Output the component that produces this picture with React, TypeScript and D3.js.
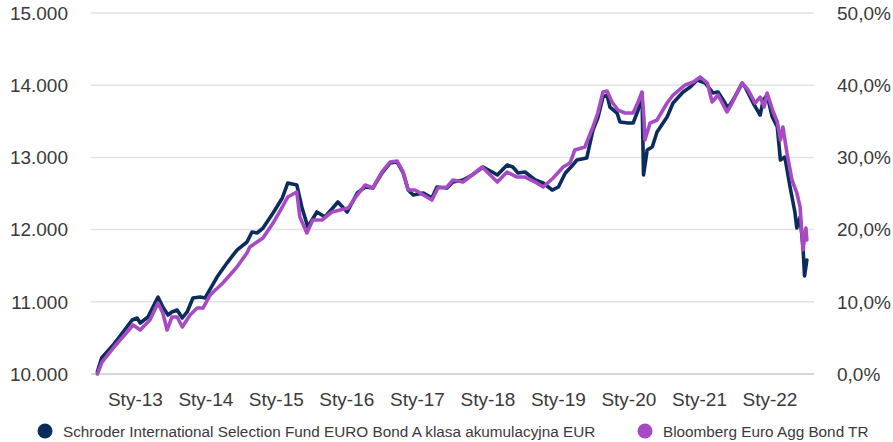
import * as d3 from 'd3';
import * as React from 'react';

const { useRef, useEffect } = React;

const width = 893;
const height = 442;
const plot = { left: 91, right: 814, top: 13, bottom: 374 };

// fund series (Schroder ISF EURO Bond A), value of 10 000 invested
const fundSeries: [string, number][] = [
  ['2012-06-18', 10030], ['2012-07-10', 10222], ['2012-09-08', 10402], ['2012-10-29', 10582],
  ['2012-12-15', 10748], ['2013-01-10', 10776], ['2013-01-26', 10706], ['2013-03-07', 10789],
  ['2013-04-02', 10928], ['2013-04-28', 11066], ['2013-05-23', 10928], ['2013-06-19', 10817],
  ['2013-07-09', 10859], ['2013-08-05', 10886], ['2013-09-01', 10776], ['2013-09-26', 10859],
  ['2013-10-26', 11053], ['2013-12-02', 11066], ['2013-12-28', 11053], ['2014-02-28', 11343],
  ['2014-04-20', 11537], ['2014-06-11', 11717], ['2014-08-02', 11828], ['2014-08-28', 11967],
  ['2014-09-23', 11953], ['2014-10-24', 12022], ['2014-12-15', 12230], ['2015-02-01', 12438],
  ['2015-03-01', 12645], ['2015-04-17', 12618], ['2015-05-13', 12313], ['2015-06-13', 12036],
  ['2015-07-30', 12244], ['2015-09-10', 12174], ['2015-11-16', 12382], ['2016-01-03', 12244],
  ['2016-02-24', 12507], ['2016-04-05', 12590], ['2016-05-15', 12576], ['2016-07-01', 12784],
  ['2016-08-12', 12922], ['2016-09-18', 12936], ['2016-10-19', 12784], ['2016-11-14', 12548],
  ['2016-12-10', 12479], ['2017-02-01', 12507], ['2017-03-17', 12438], ['2017-04-12', 12590],
  ['2017-06-03', 12576], ['2017-07-04', 12659], ['2017-08-25', 12687], ['2017-10-11', 12756],
  ['2017-12-07', 12867], ['2018-01-23', 12798], ['2018-02-19', 12756], ['2018-04-10', 12895],
  ['2018-05-10', 12867], ['2018-06-06', 12784], ['2018-07-12', 12798], ['2018-09-03', 12687],
  ['2018-10-14', 12645], ['2018-11-30', 12548], ['2019-01-01', 12590], ['2019-02-06', 12784],
  ['2019-03-17', 12895], ['2019-04-07', 12964], ['2019-05-28', 12992], ['2019-06-29', 13379],
  ['2019-07-24', 13546], ['2019-08-20', 13836], ['2019-09-10', 13864], ['2019-09-25', 13698],
  ['2019-11-01', 13615], ['2019-11-16', 13490], ['2019-12-27', 13476], ['2020-01-23', 13476],
  ['2020-02-18', 13656], ['2020-03-09', 13892], ['2020-03-17', 12756], ['2020-04-05', 13102],
  ['2020-05-01', 13144], ['2020-05-26', 13352], ['2020-07-17', 13559], ['2020-08-17', 13753],
  ['2020-10-08', 13906], ['2020-11-14', 13975], ['2020-12-20', 14072], ['2021-01-31', 14030],
  ['2021-03-12', 13892], ['2021-04-07', 13906], ['2021-05-13', 13753], ['2021-05-28', 13684],
  ['2021-06-24', 13795], ['2021-08-10', 14030], ['2021-08-25', 13975], ['2021-10-06', 13753],
  ['2021-11-11', 13587], ['2021-11-27', 13795], ['2021-12-17', 13864], ['2022-01-13', 13559],
  ['2022-02-08', 13421], ['2022-02-24', 12964], ['2022-03-19', 13005], ['2022-04-15', 12590],
  ['2022-05-10', 12244], ['2022-05-20', 12022], ['2022-06-06', 12174], ['2022-06-21', 11759],
  ['2022-06-29', 11357], ['2022-07-11', 11579],
];

// benchmark series (Bloomberg Euro Agg Bond TR)
const benchSeries: [string, number][] = [
  ['2012-06-18', 10000], ['2012-07-12', 10166], ['2012-09-08', 10360], ['2012-11-19', 10582],
  ['2012-12-20', 10679], ['2013-01-26', 10609], ['2013-03-17', 10748], ['2013-04-28', 10983],
  ['2013-05-23', 10845], ['2013-06-14', 10609], ['2013-07-09', 10789], ['2013-08-05', 10789],
  ['2013-09-01', 10651], ['2013-10-11', 10817], ['2013-11-17', 10914], ['2013-12-17', 10914],
  ['2014-01-23', 11094], ['2014-03-30', 11260], ['2014-06-11', 11482], ['2014-08-02', 11676],
  ['2014-08-17', 11759], ['2014-10-24', 11884], ['2014-12-15', 12091], ['2015-02-01', 12313],
  ['2015-03-01', 12451], ['2015-04-17', 12521], ['2015-05-03', 12174], ['2015-06-08', 11953],
  ['2015-07-09', 12133], ['2015-08-25', 12133], ['2015-10-16', 12244], ['2015-11-27', 12271],
  ['2016-01-08', 12299], ['2016-02-24', 12479], ['2016-04-05', 12618], ['2016-05-15', 12576],
  ['2016-07-01', 12798], ['2016-08-12', 12936], ['2016-09-18', 12950], ['2016-10-19', 12798],
  ['2016-11-14', 12548], ['2016-12-20', 12548], ['2017-02-01', 12479], ['2017-03-17', 12410],
  ['2017-04-17', 12576], ['2017-06-03', 12590], ['2017-07-04', 12687], ['2017-08-25', 12659],
  ['2017-10-11', 12756], ['2017-12-02', 12867], ['2018-01-13', 12756], ['2018-02-19', 12659],
  ['2018-04-10', 12798], ['2018-06-01', 12728], ['2018-07-12', 12728], ['2018-09-03', 12659],
  ['2018-10-14', 12590], ['2018-12-05', 12715], ['2019-01-26', 12867], ['2019-03-02', 12922],
  ['2019-03-27', 13102], ['2019-05-18', 13144], ['2019-06-29', 13421], ['2019-07-24', 13615],
  ['2019-08-20', 13906], ['2019-09-10', 13920], ['2019-10-06', 13767], ['2019-11-06', 13656],
  ['2019-12-12', 13615], ['2020-01-23', 13615], ['2020-02-18', 13767], ['2020-03-09', 13906],
  ['2020-03-19', 13546], ['2020-03-24', 13241], ['2020-04-20', 13476], ['2020-05-26', 13518],
  ['2020-07-17', 13753], ['2020-08-17', 13864], ['2020-10-19', 14003], ['2020-11-30', 14044],
  ['2021-01-05', 14113], ['2021-02-11', 14030], ['2021-03-07', 13767], ['2021-04-07', 13864],
  ['2021-05-23', 13629], ['2021-06-19', 13753], ['2021-08-10', 14030], ['2021-09-10', 13933],
  ['2021-10-16', 13753], ['2021-11-11', 13836], ['2021-12-02', 13698], ['2021-12-17', 13892],
  ['2022-01-18', 13629], ['2022-02-08', 13490], ['2022-02-24', 13241], ['2022-03-09', 13421],
  ['2022-03-30', 13061], ['2022-04-25', 12687], ['2022-05-20', 12507], ['2022-06-06', 12313],
  ['2022-06-21', 11717], ['2022-07-06', 12022], ['2022-07-11', 11856],
];

const leftTicks = [10000, 11000, 12000, 13000, 14000, 15000];
const rightTicks = [0, 0.1, 0.2, 0.3, 0.4, 0.5];
const xTickDates = ['2013-01-01', '2014-01-01', '2015-01-01', '2016-01-01', '2017-01-01',
  '2018-01-01', '2019-01-01', '2020-01-01', '2021-01-01', '2022-01-01'];
const xTickLabels = ['Sty-13', 'Sty-14', 'Sty-15', 'Sty-16', 'Sty-17', 'Sty-18', 'Sty-19',
  'Sty-20', 'Sty-21', 'Sty-22'];

const seriesNames = [
  'Schroder International Selection Fund EURO Bond A klasa akumulacyjna EUR',
  'Bloomberg Euro Agg Bond TR',
];
const colors = ['#0c2c5e', '#a64bc4'];

const font = '"Liberation Sans", Arial, sans-serif';
const textColor = '#3a3a3a';

export default () => {
  const rootRef = useRef<HTMLDivElement>(null);

  useEffect(() => {
    const rootEl = rootRef.current;
    if (!rootEl) return;
    d3.select(rootEl).selectAll('*').remove();

    const parse = d3.utcParse('%Y-%m-%d');
    const pl = d3.formatLocale({ decimal: ',', thousands: '.', grouping: [3], currency: ['', ' zł'] });
    const fmtLeft = pl.format(',.0f');
    const fmtRight = pl.format('.1%');

    const x = d3
      .scaleUtc()
      .domain([parse('2012-05-16')!, parse('2022-08-17')!])
      .range([plot.left, plot.right]);
    const y = d3.scaleLinear().domain([10000, 15000]).range([plot.bottom, plot.top]);
    const yRight = d3.scaleLinear().domain([0, 0.5]).range([plot.bottom, plot.top]);

    const svg = d3
      .select(rootEl)
      .append('svg')
      .attr('width', width)
      .attr('height', height)
      .style('position', 'absolute')
      .style('left', 0)
      .style('top', 0)
      .attr('font-family', font);

    // gridlines
    svg
      .append('g')
      .selectAll('line')
      .data(leftTicks)
      .join('line')
      .attr('x1', plot.left)
      .attr('x2', plot.right)
      .attr('y1', d => y(d))
      .attr('y2', d => y(d))
      .attr('stroke', d => (d === 10000 ? '#c8c8c8' : '#e2e2e2'))
      .attr('stroke-width', 1.5);

    // left axis labels
    svg
      .append('g')
      .selectAll('text')
      .data(leftTicks)
      .join('text')
      .attr('x', 68)
      .attr('y', d => y(d))
      .attr('dy', '0.36em')
      .attr('text-anchor', 'end')
      .attr('font-size', 19)
      .attr('fill', textColor)
      .text(d => fmtLeft(d));

    // right axis labels
    svg
      .append('g')
      .selectAll('text')
      .data(rightTicks)
      .join('text')
      .attr('x', 837)
      .attr('y', d => yRight(d))
      .attr('dy', '0.36em')
      .attr('text-anchor', 'start')
      .attr('font-size', 19)
      .attr('fill', textColor)
      .text(d => fmtRight(d));

    // x axis labels
    svg
      .append('g')
      .selectAll('text')
      .data(xTickDates)
      .join('text')
      .attr('x', d => x(parse(d)!))
      .attr('y', 399)
      .attr('dy', '0.36em')
      .attr('text-anchor', 'middle')
      .attr('font-size', 19)
      .attr('fill', textColor)
      .text((d, i) => xTickLabels[i]);

    const line = d3
      .line<[string, number]>()
      .x(d => x(parse(d[0])!))
      .y(d => y(d[1]));

    [fundSeries, benchSeries].forEach((s, i) => {
      svg
        .append('path')
        .datum(s)
        .attr('d', line)
        .attr('fill', 'none')
        .attr('stroke', colors[i])
        .attr('stroke-width', 3.6)
        .attr('stroke-linejoin', 'round')
        .attr('stroke-linecap', 'round');
    });

    // legend
    const legendX = [45, 645];
    const lg = svg
      .append('g')
      .selectAll('g')
      .data(seriesNames)
      .join('g')
      .attr('transform', (d, i) => `translate(${legendX[i]},431)`);
    lg.append('circle').attr('r', 7.5).attr('fill', (d, i) => colors[i]);
    lg.append('text')
      .attr('x', 18)
      .attr('dy', '0.36em')
      .attr('font-size', 15.3)
      .attr('fill', textColor)
      .text(d => d);
  }, []);

  return <div ref={rootRef} />;
};
